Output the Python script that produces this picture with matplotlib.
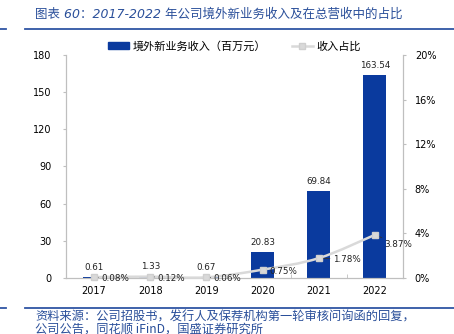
import matplotlib
matplotlib.use("Agg")
import matplotlib.pyplot as plt
from matplotlib.path import Path
from matplotlib.patches import PathPatch
from matplotlib.lines import Line2D
from matplotlib.patches import Patch

plt.rcParams["font.family"] = ["DejaVu Sans", "Noto Sans CJK SC"]

years = ["2017", "2018", "2019", "2020", "2021", "2022"]
revenue = [0.61, 1.33, 0.67, 20.83, 69.84, 163.54]  # 百万元
share = [0.08, 0.12, 0.06, 0.75, 1.78, 3.87]  # %

BLUE = "#0a3a9e"
GREY_LINE = "#d9d9d9"
AXIS_GREY = "#bfbfbf"
TITLE_BLUE = "#2a4f9a"

fig = plt.figure(figsize=(4.54, 3.34), dpi=100)
ax = fig.add_axes([0.1454, 0.1677, 0.7423, 0.6676])
ax2 = ax.twinx()

x = list(range(len(years)))
ax.bar(x, revenue, width=0.41, color=BLUE, zorder=2)
for xi, v in zip(x, revenue):
    ax.annotate(f"{v:.2f}", (xi, v), xytext=(0, 4), textcoords="offset points",
                ha="center", va="bottom", fontsize=6.3, color="#222222")

ax.set_xlim(-0.5, len(years) - 0.5)
ax.set_ylim(0, 180)
ax.set_yticks(range(0, 181, 30))
ax.set_xticks(x)
ax.set_xticklabels(years, fontsize=7)
ax.tick_params(axis="x", length=0, pad=6)
ax.set_xticks([i + 0.5 for i in x[:-1]], minor=True)
ax.tick_params(axis="x", which="minor", direction="in", length=3, color=AXIS_GREY)
ax.tick_params(axis="y", labelsize=7, length=2.5, color=AXIS_GREY, pad=8)

ax2.set_ylim(0, 20)
ax2.set_yticks(range(0, 21, 4))
ax2.set_yticklabels([f"{t}%" for t in range(0, 21, 4)])
ax2.tick_params(axis="y", labelsize=7, length=2.5, color=AXIS_GREY, pad=6)

for a in (ax, ax2):
    a.spines["top"].set_visible(False)
    for s in ("left", "right", "bottom"):
        a.spines[s].set_color(AXIS_GREY)
        a.spines[s].set_linewidth(0.8)

# smoothed share line (Catmull-Rom through the data points)
pts = list(zip(x, share))
verts = [pts[0]]
codes = [Path.MOVETO]
for i in range(len(pts) - 1):
    p0 = pts[i - 1] if i > 0 else pts[i]
    p1, p2 = pts[i], pts[i + 1]
    p3 = pts[i + 2] if i + 2 < len(pts) else pts[i + 1]
    c1 = (p1[0] + (p2[0] - p0[0]) / 6, p1[1] + (p2[1] - p0[1]) / 6)
    c2 = (p2[0] - (p3[0] - p1[0]) / 6, p2[1] - (p3[1] - p1[1]) / 6)
    verts += [c1, c2, p2]
    codes += [Path.CURVE4] * 3
ax2.add_patch(PathPatch(Path(verts, codes), fill=False, edgecolor=GREY_LINE,
                        lw=1.8, zorder=3, clip_on=False))
ax2.plot(x, share, ls="none", marker="s", ms=4, color=GREY_LINE,
         mec="#cfcfcf", zorder=4, clip_on=False)

label_offsets = [(5, -1), (5, -1), (5, -1), (5, -1), (10, -1), (7, -7)]
for xi, s, off in zip(x, share, label_offsets):
    ax2.annotate(f"{s:.2f}%", (xi, s), xytext=off, textcoords="offset points",
                 ha="left", va="center", fontsize=6.3, color="#222222",
                 arrowprops=dict(arrowstyle="-", color="#333333", lw=0.6,
                                 shrinkA=0, shrinkB=0))

handles = [Patch(facecolor=BLUE, edgecolor=BLUE),
           Line2D([], [], color=GREY_LINE, lw=1.8, marker="s", ms=4,
                  mec="#cfcfcf")]
fig.legend(handles, ["境外新业务收入（百万元）", "收入占比"],
           loc="center", bbox_to_anchor=(0.516, 0.862), ncol=2, frameon=False,
           handlelength=1.9, handleheight=0.6, columnspacing=2.3,
           handletextpad=0.3, prop={"family": ["Noto Sans CJK SC"], "size": 8})

# title, rules, source
fig.text(0.077, 0.957, "图表 60：2017-2022 年公司境外新业务收入及在总营收中的占比",
         fontsize=9, color=TITLE_BLUE, style="italic", va="center",
         family=["DejaVu Sans", "Noto Sans CJK SC"])
for yy in (0.913, 0.078):
    fig.add_artist(Line2D([0.055, 1.0], [yy, yy], color="#2f55a4", lw=1.3))
    fig.add_artist(Line2D([0.0, 0.013], [yy, yy], color="#2f55a4", lw=1.3))
fig.text(0.077, 0.052, "资料来源：公司招股书，发行人及保荐机构第一轮审核问询函的回复，",
         fontsize=8.8, color=TITLE_BLUE, style="italic", va="center",
         family=["Noto Sans CJK SC", "DejaVu Sans"])
fig.text(0.077, 0.016, "公司公告，同花顺 iFinD，国盛证券研究所",
         fontsize=8.8, color=TITLE_BLUE, style="italic", va="center",
         family=["Noto Sans CJK SC", "DejaVu Sans"])

fig.savefig("out.png", dpi=100)
